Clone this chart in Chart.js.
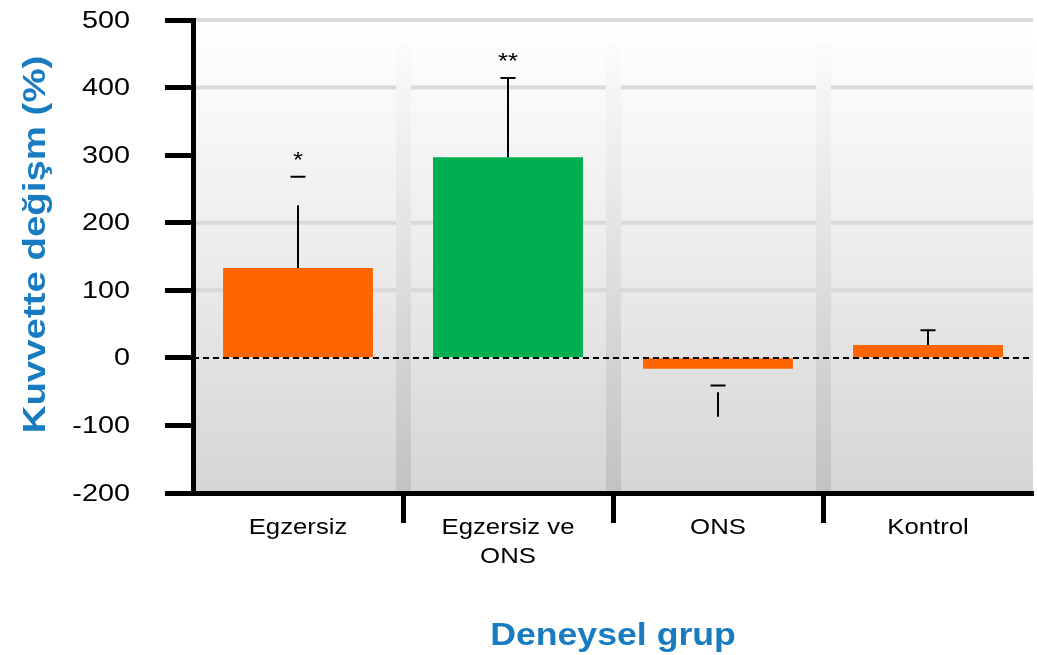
<!DOCTYPE html>
<html>
<head>
<meta charset="utf-8">
<script src="https://cdn.jsdelivr.net/npm/chart.js@4.4.0/dist/chart.umd.min.js"></script>
<style>
html, body { margin: 0; padding: 0; background: #fff; }
canvas { display: block; }
</style>
</head>
<body>
<canvas id="c" width="1037" height="655"></canvas>
<script>
// data
var groups = [["Egzersiz"], ["Egzersiz ve", "ONS"], ["ONS"], ["Kontrol"]];
var changes = [133, 297, -16, 19];
var barColors = ["#ff6600", "#00b050", "#ff6600", "#ff6600"];
// error bars: the whisker runs errFrom -> errTo, the cap sits at errCap
var errFrom = [133, 297, -51, 19];
var errTo = [226, 414, -87, 41];
var errCap = [268, 414, -41, 41];
var stars = ["*", "**", "", ""];
var gridAt = [500, 400, 200, 100];
var xTitle = "Deneysel grup";
var yTitle = "Kuvvette değişm (%)";

var FONT = "'Liberation Sans', Arial, sans-serif";
var BLUE = "#1a7cc0";
var STRETCH = 1.17; // the original text is drawn a bit wide

function wideText(ctx, text, x, y, sx, rot) {
    ctx.save();
    ctx.translate(x, y);
    if (rot) ctx.rotate(rot);
    ctx.scale(sx, 1);
    ctx.fillText(text, 0, 0);
    ctx.restore();
}

var decor = {
    id: "decor",
    beforeDraw: function(chart) {
        var a = chart.chartArea, ctx = chart.ctx;
        var g = ctx.createLinearGradient(0, a.top, 0, a.bottom);
        g.addColorStop(0, "#ffffff"); g.addColorStop(0.5, "#ececec"); g.addColorStop(1, "#d5d5d5");
        ctx.save(); ctx.fillStyle = g;
        ctx.fillRect(a.left, a.top, a.right - a.left, a.bottom - a.top);
        ctx.restore();
    },
    beforeDatasetsDraw: function(chart) {
        var a = chart.chartArea, ctx = chart.ctx, y = chart.scales.y, x = chart.scales.x;
        ctx.save();
        ctx.strokeStyle = "#d9d9d9"; ctx.lineWidth = 4;
        gridAt.forEach(function(v) {
            var py = y.getPixelForValue(v);
            ctx.beginPath(); ctx.moveTo(a.left, py); ctx.lineTo(a.right, py); ctx.stroke();
        });
        // grey pillars between the groups
        var bandTop = a.top + 25;
        var g = ctx.createLinearGradient(0, bandTop, 0, a.bottom);
        g.addColorStop(0, "#fbfbfb"); g.addColorStop(1, "#c2c2c2");
        ctx.fillStyle = g;
        for (var i = 1; i < groups.length; i++) {
            var bx = (x.getPixelForValue(i - 1) + x.getPixelForValue(i)) / 2;
            ctx.fillRect(bx - 7, bandTop, 15, a.bottom - bandTop);
        }
        ctx.restore();
    },
    afterDatasetsDraw: function(chart) {
        var a = chart.chartArea, ctx = chart.ctx, y = chart.scales.y, x = chart.scales.x;
        ctx.save();
        // dashed zero line
        var y0 = Math.round(y.getPixelForValue(0));
        ctx.strokeStyle = "#000"; ctx.lineWidth = 2; ctx.setLineDash([6, 4]);
        ctx.beginPath(); ctx.moveTo(a.left, y0); ctx.lineTo(a.right, y0); ctx.stroke();
        ctx.setLineDash([]);
        // error bars
        ctx.lineWidth = 2;
        for (var i = 0; i < groups.length; i++) {
            var cx = Math.round(x.getPixelForValue(i));
            ctx.beginPath();
            ctx.moveTo(cx, y.getPixelForValue(errFrom[i])); ctx.lineTo(cx, y.getPixelForValue(errTo[i]));
            var cy = y.getPixelForValue(errCap[i]);
            ctx.moveTo(cx - 7.5, cy); ctx.lineTo(cx + 7.5, cy);
            ctx.stroke();
            if (stars[i]) {
                ctx.fillStyle = "#000"; ctx.font = "22px " + FONT;
                ctx.textAlign = "center"; ctx.textBaseline = "alphabetic";
                wideText(ctx, stars[i], cx, cy - 10, STRETCH);
            }
        }
        ctx.restore();
    },
    afterDraw: function(chart) {
        var a = chart.chartArea, ctx = chart.ctx, y = chart.scales.y, x = chart.scales.x;
        ctx.save();
        ctx.fillStyle = "#000";
        // y tick labels
        ctx.font = "24px " + FONT; ctx.textAlign = "right"; ctx.textBaseline = "middle";
        y.ticks.forEach(function(t) { wideText(ctx, String(t.value), 130, y.getPixelForValue(t.value) + 1, 1.2); });
        // category labels
        ctx.font = "22px " + FONT; ctx.textAlign = "center";
        chart.data.labels.forEach(function(lines, i) {
            var cx = x.getPixelForValue(i);
            lines.forEach(function(s, k) { wideText(ctx, s, cx, 528 + k * 29, STRETCH); });
        });
        // axis titles
        ctx.fillStyle = BLUE; ctx.font = "bold 31px " + FONT;
        wideText(ctx, xTitle, (a.left + a.right) / 2, 636, 1.15);
        ctx.font = "bold 32px " + FONT;
        wideText(ctx, yTitle, 36, (a.top + a.bottom) / 2 - 12, 1.2, -Math.PI / 2);
        ctx.restore();
    }
};

new Chart(document.getElementById("c"), {
    type: "bar",
    data: {
        labels: groups,
        datasets: [{ data: changes, backgroundColor: barColors, barPercentage: 0.714, categoryPercentage: 1 }]
    },
    options: {
        responsive: false,
        animation: false,
        layout: { padding: { top: 20, right: 4, left: 0, bottom: 0 } },
        plugins: { legend: { display: false }, tooltip: { enabled: false } },
        scales: {
            x: {
                grid: {
                    drawOnChartArea: false, offset: true, tickLength: 30, tickWidth: 5,
                    tickColor: function(c) { return (c.index >= 1 && c.index <= 3) ? "#000" : "rgba(0,0,0,0)"; }
                },
                border: { display: true, color: "#000", width: 5, z: 1 },
                ticks: { display: false },
                afterFit: function(s) { s.height = 162; s.paddingLeft = 0; s.paddingRight = 0; }
            },
            y: {
                min: -200, max: 500,
                ticks: { stepSize: 100, display: false },
                grid: { drawOnChartArea: false, tickLength: 28, tickWidth: 5, tickColor: "#000" },
                border: { display: true, color: "#000", width: 5, z: 1 },
                afterFit: function(s) { s.width = 193; s.paddingTop = 0; s.paddingBottom = 0; }
            }
        }
    },
    plugins: [decor]
});
</script>
</body>
</html>
